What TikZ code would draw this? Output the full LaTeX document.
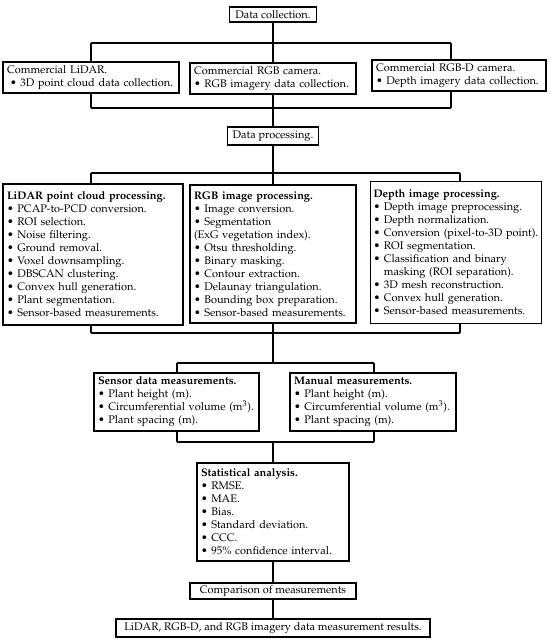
\documentclass[tikz,border=0pt]{standalone}
\usepackage[T1]{fontenc}
\usepackage{mathpazo}
\newcommand{\bl}{\textbullet\ }
\newcommand{\hang}{\phantom{\textbullet\ }}
\tikzset{
  box/.style={draw, line width=1.2pt, inner xsep=4pt, inner ysep=2pt, align=left,
    font=\fontsize{11}{13}\selectfont, anchor=center},
  cbox/.style={box, align=center},
  conn/.style={line width=1.2pt},
}
\begin{document}
\begin{tikzpicture}[x=1pt, y=-1pt]
\useasboundingbox (0,0) rectangle (550,640);
% level 1
\node[cbox, minimum width=87pt, minimum height=15pt] (dc) at (273,14.5) {Data collection.};
\node[box, text width=168pt, minimum height=31pt] (lc) at (91,77.5)
  {Commercial LiDAR.\\\hspace*{3pt}\bl 3D point cloud data collection.};
\node[box, text width=158pt, minimum height=31pt] (rc) at (273,78.5)
  {Commercial RGB camera.\\\bl RGB imagery data collection.};
\node[box, text width=166pt, minimum height=31pt] (dcam) at (459,75.5)
  {Commercial RGB-D camera.\\\bl Depth imagery data collection.};
\node[cbox, minimum width=91pt, minimum height=18pt] (dp) at (273,136) {Data processing.};
% processing
\node[box, text width=172pt, minimum height=141pt] (lp) at (93,254.5)
  {\textbf{LiDAR point cloud processing.}\\
   \bl PCAP-to-PCD conversion.\\
   \bl ROI selection.\\
   \bl Noise filtering.\\
   \bl Ground removal.\\
   \bl Voxel downsampling.\\
   \bl DBSCAN clustering.\\
   \bl Convex hull generation.\\
   \bl Plant segmentation.\\
   \bl Sensor-based measurements.};
\node[box, text width=158pt, minimum height=138pt] (rp) at (273,254)
  {\textbf{RGB image processing.}\\
   \bl Image conversion.\\
   \bl Segmentation\\
   (ExG vegetation index).\\
   \bl Otsu thresholding.\\
   \bl Binary masking.\\
   \bl Contour extraction.\\
   \bl Delaunay triangulation.\\
   \bl Bounding box preparation.\\
   \bl Sensor-based measurements.};
\node[box, inner xsep=3pt, text width=165pt, minimum height=142pt] (dpp) at (456,252.5)
  {\textbf{Depth image processing.}\\
   \bl Depth image preprocessing.\\
   \bl Depth normalization.\\
   \mbox{\bl Conversion (pixel-to-3D point).}\\
   \bl ROI segmentation.\\
   \bl Classification and binary\\
   \hang masking (ROI separation).\\
   \bl 3D mesh reconstruction.\\
   \bl Convex hull generation.\\
   \bl Sensor-based measurements.};
% measurements
\node[box, text width=157pt, minimum height=58pt] (sm) at (176.5,402)
  {\textbf{Sensor data measurements.}\\
   \bl Plant height (m).\\
   \bl Circumferential volume (m\textsuperscript{3}).\\
   \bl Plant spacing (m).};
\node[box, text width=158pt, minimum height=58pt] (mm) at (373,402)
  {\textbf{Manual measurements.}\\
   \bl Plant height (m).\\
   \bl Circumferential volume (m\textsuperscript{3}).\\
   \bl Plant spacing (m).};
\node[box, text width=144pt, minimum height=98pt] (st) at (273,512)
  {\textbf{Statistical analysis.}\\
   \bl RMSE.\\
   \bl MAE.\\
   \bl Bias.\\
   \bl Standard deviation.\\
   \bl CCC.\\
   \bl 95\% confidence interval.};
\node[cbox, minimum width=166pt, minimum height=16pt] (cm) at (273,591) {Comparison of measurements};
\node[cbox, minimum width=314pt, minimum height=18pt] (fr) at (273,628)
  {LiDAR, RGB-D, and RGB imagery data measurement results.};
% bus coordinates
\coordinate (t1) at (91,43);  \coordinate (t2) at (451,43);
\coordinate (b1) at (91,108); \coordinate (b2) at (451,108);
\coordinate (p1) at (91,173); \coordinate (p2) at (460,173);
\coordinate (q1) at (91,333); \coordinate (q2) at (460,333);
\coordinate (s1) at (177,363); \coordinate (s2) at (374,363);
\coordinate (u1) at (177,442); \coordinate (u2) at (374,442);
% connectors
\draw[conn] (t1) -- (t2);
\draw[conn] (dc.south) -- (rc.north);
\draw[conn] (t1) -- (t1 |- lc.north);
\draw[conn] (t2) -- (t2 |- dcam.north);
\draw[conn] (b1) -- (b2);
\draw[conn] (b1) -- (b1 |- lc.south);
\draw[conn] (b2) -- (b2 |- dcam.south);
\draw[conn] (rc.south) -- (dp.north);
\draw[conn] (p1) -- (p2);
\draw[conn] (dp.south) -- (rp.north);
\draw[conn] (p1) -- (p1 |- lp.north);
\draw[conn] (p2) -- (p2 |- dpp.north);
\draw[conn] (q1) -- (q2);
\draw[conn] (q1) -- (q1 |- lp.south);
\draw[conn] (q2) -- (q2 |- dpp.south);
\draw[conn] (rp.south) -- (rp.south |- s1);
\draw[conn] (s1) -- (s2);
\draw[conn] (s1) -- (s1 |- sm.north);
\draw[conn] (s2) -- (s2 |- mm.north);
\draw[conn] (u1) -- (u2);
\draw[conn] (u1) -- (u1 |- sm.south);
\draw[conn] (u2) -- (u2 |- mm.south);
\draw[conn] (st.north |- u1) -- (st.north);
\draw[conn] (st.south) -- (cm.north);
\draw[conn] (cm.south) -- (fr.north);
\end{tikzpicture}
\end{document}
